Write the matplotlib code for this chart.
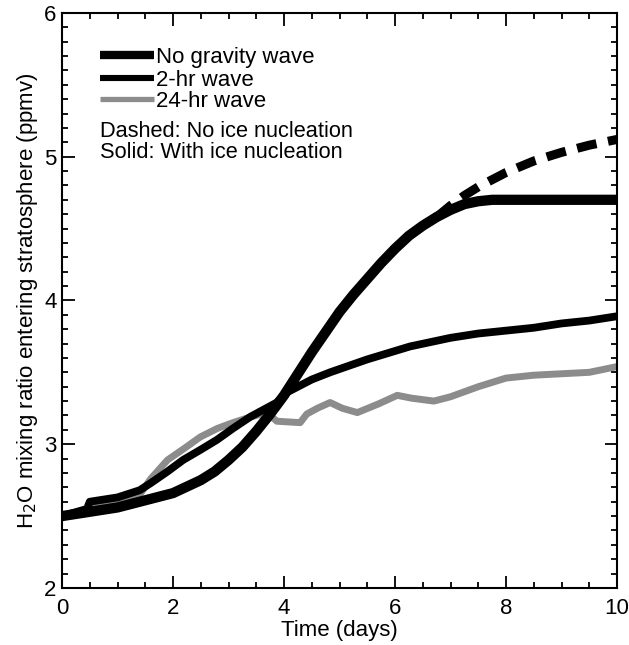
import matplotlib
matplotlib.use("Agg")
from matplotlib import pyplot as plt
from matplotlib.ticker import MultipleLocator

plt.rcParams['font.family'] = ['Liberation Sans', 'DejaVu Sans']

# no gravity wave, with ice nucleation (solid)
x_nogw = [0, 0.5, 1, 1.5, 2, 2.5, 2.75, 3, 3.25, 3.5, 3.75, 4, 4.25, 4.5, 4.75, 5,
          5.25, 5.5, 5.75, 6, 6.25, 6.5, 6.75, 7, 7.25, 7.5, 7.75, 8, 9, 10]
y_nogw = [2.50, 2.53, 2.56, 2.61, 2.66, 2.75, 2.81, 2.89, 2.98, 3.09, 3.21, 3.34, 3.49,
          3.64, 3.78, 3.92, 4.04, 4.15, 4.26, 4.36, 4.45, 4.52, 4.58, 4.63, 4.67, 4.69,
          4.70, 4.70, 4.70, 4.70]

# no gravity wave, no ice nucleation (dashed)
x_dash = [6.75, 7, 7.25, 7.5, 8, 8.5, 9, 9.5, 10]
y_dash = [4.58, 4.66, 4.73, 4.79, 4.89, 4.97, 5.03, 5.08, 5.12]

# 2-hr wave
x_2hr = [0, 0.45, 0.5, 1, 1.4, 1.6, 1.9, 2.18, 2.49, 2.79, 3.08, 3.39, 3.63, 3.87,
         4.05, 4.5, 4.83, 5.5, 6.27, 7, 7.5, 8, 8.5, 9, 9.5, 10]
y_2hr = [2.50, 2.55, 2.60, 2.63, 2.68, 2.73, 2.81, 2.89, 2.96, 3.03, 3.11, 3.19, 3.24,
         3.29, 3.36, 3.45, 3.50, 3.59, 3.68, 3.74, 3.77, 3.79, 3.81, 3.84, 3.86, 3.89]

# 24-hr wave
x_24hr = [0, 0.5, 1, 1.25, 1.4, 1.6, 1.9, 2.2, 2.49, 2.8, 3.08, 3.4, 3.69, 3.87,
          4.29, 4.41, 4.6, 4.83, 5.05, 5.32, 5.7, 6.04, 6.3, 6.7, 7, 7.5, 8, 8.5, 9,
          9.5, 10]
y_24hr = [2.50, 2.55, 2.60, 2.62, 2.65, 2.76, 2.89, 2.97, 3.05, 3.11, 3.15, 3.19, 3.22,
          3.16, 3.15, 3.21, 3.25, 3.29, 3.25, 3.22, 3.28, 3.34, 3.32, 3.30, 3.33, 3.40,
          3.46, 3.48, 3.49, 3.50, 3.54]

fig = plt.figure(figsize=(6.29, 6.45), dpi=100)
ax = fig.add_axes([0.0986, 0.0884, 0.8824, 0.8916])

ax.plot(x_24hr, y_24hr, color='#8c8c8c', lw=5.0, solid_capstyle='butt',
        solid_joinstyle='round', zorder=2)
ax.plot(x_2hr, y_2hr, color='black', lw=5.6, solid_capstyle='butt',
        solid_joinstyle='round', zorder=3)
ax.plot(x_dash, y_dash, color='black', lw=6.5, dashes=(2.2, 1.3),
        dash_capstyle='butt', zorder=3)
ax.plot(x_nogw, y_nogw, color='black', lw=7.4, solid_capstyle='butt',
        solid_joinstyle='round', zorder=4)

ax.set_xlim(0, 10)
ax.set_ylim(2, 6)
ax.xaxis.set_major_locator(MultipleLocator(2))
ax.xaxis.set_minor_locator(MultipleLocator(0.5))
ax.yaxis.set_major_locator(MultipleLocator(1))
ax.yaxis.set_minor_locator(MultipleLocator(0.1))
ax.tick_params(which='both', direction='in', top=True, right=True, width=1.3,
               labelsize=16)
ax.tick_params(which='major', length=9)
ax.tick_params(which='minor', length=4)
ax.tick_params(axis='x', which='major', pad=7)
ax.tick_params(axis='y', which='major', pad=4)
for s in ax.spines.values():
    s.set_linewidth(1.5)

ax.set_xlabel('Time (days)', fontsize=16, labelpad=1)
ax.set_ylabel('H$_2$O mixing ratio entering stratosphere (ppmv)', fontsize=16,
              labelpad=3)

# legend drawn by hand
lx0, lx1, ltx = 0.068, 0.166, 0.17
ax.plot([lx0, lx1], [0.927, 0.927], transform=ax.transAxes, color='black', lw=6.0,
        solid_capstyle='butt')
ax.plot([lx0, lx1], [0.887, 0.887], transform=ax.transAxes, color='black', lw=4.4,
        solid_capstyle='butt')
ax.plot([lx0, lx1], [0.850, 0.850], transform=ax.transAxes, color='#8c8c8c', lw=3.8,
        solid_capstyle='butt')
ax.text(ltx, 0.927, 'No gravity wave', transform=ax.transAxes, fontsize=16,
        va='center_baseline')
ax.text(ltx, 0.887, '2-hr wave', transform=ax.transAxes, fontsize=16,
        va='center_baseline')
ax.text(ltx, 0.850, '24-hr wave', transform=ax.transAxes, fontsize=16,
        va='center_baseline')
ax.text(lx0, 0.798, 'Dashed: No ice nucleation', transform=ax.transAxes, fontsize=15.7,
        va='center_baseline')
ax.text(lx0, 0.761, 'Solid: With ice nucleation', transform=ax.transAxes, fontsize=15.7,
        va='center_baseline')

fig.savefig('out.png', dpi=100)
